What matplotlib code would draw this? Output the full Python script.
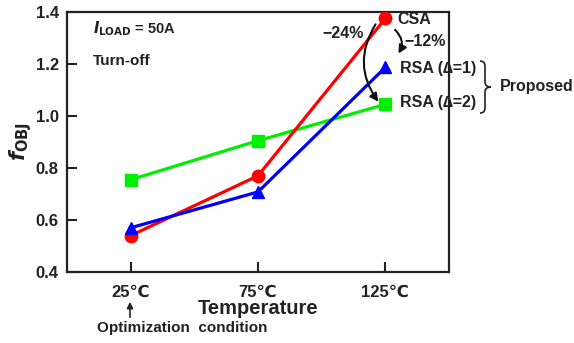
import matplotlib.pyplot as plt
from matplotlib.patches import FancyArrowPatch
from matplotlib.path import Path
from matplotlib.patches import PathPatch

plt.rcParams['font.family'] = ['Liberation Sans', 'DejaVu Sans']
plt.rcParams['font.weight'] = 'bold'

temps = ['25\u2103', '75\u2103', '125\u2103']
csa = [0.54, 0.77, 1.375]
rsa1 = [0.57, 0.708, 1.187]
rsa2 = [0.755, 0.905, 1.045]

W, H = 574, 343
fig = plt.figure(figsize=(W / 100, H / 100), dpi=100)
ax = fig.add_axes([67 / W, 1 - 272 / H, (449 - 67) / W, (272 - 12) / H])
txt = '#222222'


def fc(x, y):
    # pixel coords (from top-left) to figure fraction
    return (x / W, 1 - y / H)


x = range(len(temps))
ax.plot(x, csa, color='#ff0000', lw=2.3, marker='o', ms=9, zorder=3)
ax.plot(x, rsa1, color='#0000ff', lw=2.3, marker='^', ms=9, zorder=4)
ax.plot(x, rsa2, color='#00ee00', lw=2.3, marker='s', ms=8, zorder=2)

ax.set_xlim(-0.5, 2.5)
ax.set_ylim(0.4, 1.4)
ax.set_xticks(list(x))
ax.set_xticklabels(temps)
ax.set_yticks([0.4, 0.6, 0.8, 1.0, 1.2, 1.4])
ax.set_yticklabels(['0.4', '0.6', '0.8', '1.0', '1.2', '1.4'])
ax.tick_params(direction='in', length=7, width=1.5, labelsize=12,
               colors=txt)
ax.tick_params(axis='x', pad=9)
ax.tick_params(axis='y', pad=6)
for s in ax.spines.values():
    s.set_linewidth(1.6)
    s.set_color(txt)

ax.set_xlabel('Temperature', fontsize=14.5, color=txt, labelpad=0, fontweight='bold')
ax.set_ylabel(r'$\mathit{f}_{\mathrm{\mathbf{OBJ}}}$', fontsize=15, color=txt, labelpad=1)

fig.text(*fc(93, 29), r'$\mathit{I}_{\mathbf{LOAD}}$ = 50A', fontsize=10.5, color=txt, va='center')
fig.text(*fc(93, 61), 'Turn-off', fontsize=11, color=txt, va='center')

fig.text(*fc(397, 19), 'CSA', fontsize=11.5, color=txt, va='center')
fig.text(*fc(400, 68), 'RSA (\u2206=1)', fontsize=11.5, color=txt, va='center')
fig.text(*fc(400, 103), 'RSA (\u2206=2)', fontsize=11.5, color=txt, va='center')
fig.text(*fc(500, 87), 'Proposed', fontsize=11.5, color=txt, va='center')
fig.text(*fc(322, 34), '\u221224%', fontsize=11.5, color=txt, va='center')
fig.text(*fc(404, 42), '\u221212%', fontsize=11.5, color=txt, va='center')

# curved arrows
a1 = FancyArrowPatch(fc(377, 22), fc(380, 104), transform=fig.transFigure,
                     connectionstyle='arc3,rad=0.35', arrowstyle='-|>',
                     mutation_scale=12, lw=1.5, color='#111111')
a2 = FancyArrowPatch(fc(393, 28), fc(397, 56), transform=fig.transFigure,
                     connectionstyle='arc3,rad=-0.45', arrowstyle='-|>',
                     mutation_scale=12, lw=1.5, color='#111111')
fig.patches.extend([a1, a2])

# brace
bx, top, mid, bot = 480, 61, 87, 113
pts = [fc(bx, top), fc(bx + 5, top), fc(bx + 5, top + 5),
       fc(bx + 5, mid - 5), fc(bx + 5, mid), fc(bx + 11, mid),
       fc(bx + 5, mid), fc(bx + 5, mid + 5),
       fc(bx + 5, bot - 5), fc(bx + 5, bot), fc(bx, bot)]
codes = [Path.MOVETO, Path.CURVE3, Path.CURVE3, Path.LINETO, Path.CURVE3, Path.CURVE3,
         Path.CURVE3, Path.CURVE3, Path.LINETO, Path.CURVE3, Path.CURVE3]
fig.patches.append(PathPatch(Path(pts, codes), transform=fig.transFigure,
                             fill=False, lw=1.2, color=txt))

# optimization condition arrow
fig.patches.append(FancyArrowPatch(fc(130, 320), fc(130, 299), transform=fig.transFigure,
                                   arrowstyle='-|>', mutation_scale=9, lw=1.2, color=txt))
fig.text(*fc(97, 328), 'Optimization  condition', fontsize=11, color=txt, va='center')

fig.savefig('out.png', dpi=100)
